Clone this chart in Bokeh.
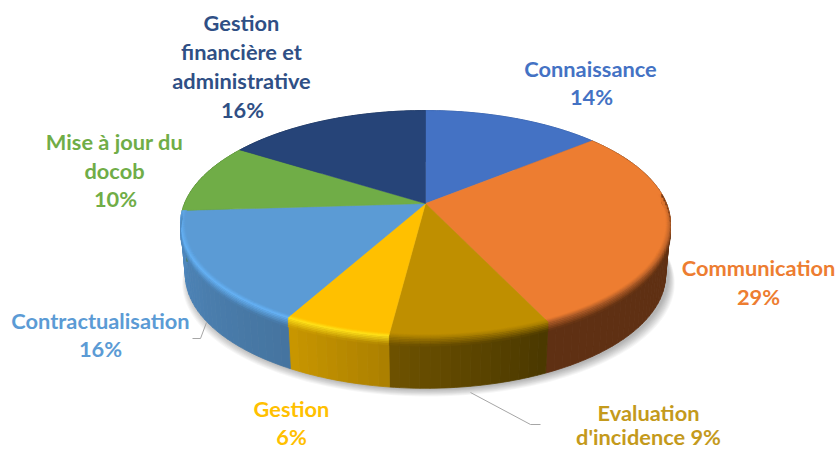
import numpy as np
from bokeh.plotting import figure
from bokeh.embed import file_html
from bokeh.resources import INLINE
from bokeh.core.properties import value

# ---- data ----
categories = ["Connaissance", "Communication", "Evaluation d'incidence", "Gestion",
              "Contractualisation", "Mise à jour du docob", "Gestion financière et administrative"]
values = [14, 29, 9, 6, 16, 10, 16]

# ---- styling ----
top_colors = ["#4472C4", "#ED7D31", "#BF8F00", "#FFC000", "#5B9BD5", "#70AD47", "#264478"]
wall_start = ["#2F5597", "#5F3013", "#4A3800", "#AB7F00", "#45749F", "#4A7A2E", "#182D50"]
wall_end = ["#2F5597", "#5F3013", "#6E5200", "#C99700", "#5089BF", "#4A7A2E", "#182D50"]
rim_colors = ["#4472C4", "#B9622A", "#A87E00", "#FFE11A", "#66B2F5", "#70AD47", "#264478"]
text_colors = ["#4472C4", "#ED7D31", "#C49A1C", "#FFC000", "#5B9BD5", "#70AD47", "#2F4F85"]

label_lines = [
    (0, "Connaissance", 590, 68), (0, "14%", 591, 96),
    (1, "Communication", 758, 267), (1, "29%", 758, 296),
    (2, "Evaluation", 648, 412), (2, "d'incidence 9%", 648, 436),
    (3, "Gestion", 291, 408), (3, "6%", 291, 436),
    (4, "Contractualisation", 100, 320), (4, "16%", 100, 348),
    (5, "Mise à jour du", 114, 141), (5, "docob", 114, 170), (5, "10%", 115, 198),
    (6, "Gestion", 241, 22), (6, "financière et", 241, 51),
    (6, "administrative", 241, 80), (6, "16%", 242, 109),
]
leaders = [([470, 530, 540], [392, 424, 424]), ([206, 200, 192], [322, 338, 338])]

# ---- projection of the tilted disc (page pixels) ----
CX, CY, A, B, K, DEPTH = 425.0, 203.0, 241.0, 109.7, 0.18, 51.0


def rim(theta, r=1.0, drop=0.0):
    u, v = r * np.sin(theta), r * np.cos(theta)
    w = 1 + K * v
    return CX + A * u / w, CY - B * v / w + drop


def wall_pt(theta):
    x, y = rim(theta, drop=DEPTH)
    return CX + (x - CX) * 0.98, y


def hex2rgb(c):
    return np.array([int(c[i:i + 2], 16) for i in (1, 3, 5)], dtype=float)


def mix(c1, c2, t):
    m = hex2rgb(c1) * (1 - t) + hex2rgb(c2) * t
    return "#%02x%02x%02x" % tuple(int(round(x)) for x in m)


p = figure(width=837, height=450, x_range=(0, 837), y_range=(450, 0),
           output_backend="svg", toolbar_location=None, min_border=0,
           background_fill_color="white", border_fill_color="white")
p.axis.visible = False
p.grid.visible = False
p.outline_line_color = None

fractions = np.array(values, dtype=float) / sum(values)
edges = np.concatenate([[0], np.cumsum(fractions)]) * 2 * np.pi
all_angles = np.linspace(0, 2 * np.pi, 241)

# soft drop shadow
for i in range(9):
    sx, sy = wall_pt(all_angles)
    grow = 1 + 0.0016 * (8 - i) * 2
    p.patch(CX + (sx - CX) * grow + 3, sy + 1 + (8 - i) * 0.9, fill_color="#000000", fill_alpha=0.035,
            line_color=None)

# side wall, as narrow strips
xs, ys, cols = [], [], []
for i in range(len(values)):
    n = max(4, int((edges[i + 1] - edges[i]) / np.radians(2)))
    th = np.linspace(edges[i], edges[i + 1], n + 1)
    for j in range(n):
        seg = np.linspace(th[j], th[j + 1], 3)
        x1, y1 = rim(seg)
        x2, y2 = wall_pt(seg[::-1])
        xs.append(np.concatenate([x1, x2]).tolist())
        ys.append(np.concatenate([y1, y2]).tolist())
        cols.append(mix(wall_start[i], wall_end[i], (j + .5) / n))
p.patches(xs, ys, fill_color=cols, line_color=cols, line_width=0.8)

# top face
for i in range(len(values)):
    th = np.linspace(edges[i], edges[i + 1], 90)
    x, y = rim(th)
    p.patch(np.r_[CX, x], np.r_[CY, y], fill_color=top_colors[i], line_color=top_colors[i], line_width=0.5)

# bevelled rim on the front of the disc
xs, ys, cols = [], [], []
steps = 10
for i in range(len(values)):
    a0, a1 = max(edges[i], np.radians(85)), min(edges[i + 1], np.radians(275))
    if a1 <= a0 or i == 5:
        continue
    n = max(3, int((a1 - a0) / np.radians(2)))
    th = np.linspace(a0, a1, n + 1)
    for j in range(n):
        seg = np.linspace(th[j], th[j + 1], 3)
        wall_col = mix(wall_start[i], wall_end[i], (j + .5) / n)
        # fades away towards the back of the disc
        mid = (seg[0] + seg[-1]) / 2
        fade = min(1.0, max(0.0, (-np.cos(mid) + 0.12) / 0.3))
        for k in range(steps):
            q0, q1 = k / steps, (k + 1) / steps
            r0 = 0.982 + 0.018 * min(q0 / 0.45, 1)
            r1 = 0.982 + 0.018 * min(q1 / 0.45, 1)
            d0 = 9 * max(0, (q0 - 0.45) / 0.55)
            d1 = 9 * max(0, (q1 - 0.45) / 0.55)
            qm = (q0 + q1) / 2
            if qm < 0.45:
                c = mix(top_colors[i], rim_colors[i], qm / 0.45)
            else:
                c = mix(rim_colors[i], wall_col, (qm - 0.45) / 0.55)
            c = mix(top_colors[i] if qm < 0.45 else wall_col, c, fade)
            x1, y1 = rim(seg, r0, d0)
            x2, y2 = rim(seg[::-1], r1, d1)
            xs.append(np.concatenate([x1, x2]).tolist())
            ys.append(np.concatenate([y1, y2]).tolist())
            cols.append(c)
p.patches(xs, ys, fill_color=cols, line_color=cols, line_width=0.5)

# leader lines
for lx, ly in leaders:
    p.line(lx, ly, line_color="#A6A6A6", line_width=1)

# labels
p.text([l[2] for l in label_lines], [l[3] for l in label_lines], text=[l[1] for l in label_lines],
       text_color=[text_colors[l[0]] for l in label_lines], text_font=value("Lato"),
       text_font_style="bold", text_font_size="21.8px", text_align="center", text_baseline="middle")

open("out.html", "w").write(file_html(p, INLINE))
